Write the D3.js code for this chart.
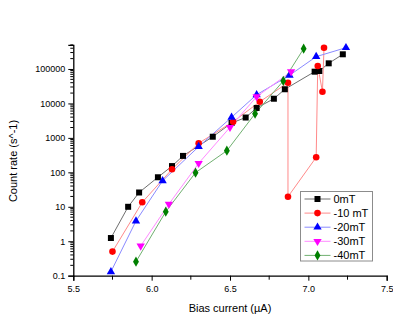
<!DOCTYPE html>
<html>
<head>
<meta charset="utf-8">
<script src="https://cdn.jsdelivr.net/npm/d3@7"></script>
<style>
  html, body { margin: 0; padding: 0; background: #fff; }
  svg { display: block; font-family: "Liberation Sans", Arial, sans-serif; }
</style>
</head>
<body>
<svg id="chart" width="393" height="320"></svg>
<script>
// Bias current (µA) and count rate (s^-1) for each magnetic field
const bias0 = [5.74, 5.85, 5.92, 6.04, 6.13, 6.20, 6.39, 6.51, 6.60, 6.67, 6.78, 6.85, 7.04, 7.07, 7.13, 7.22];
const rate0 = [1.24, 10, 26, 72, 152, 300, 1080, 2700, 3900, 7400, 13700, 25800, 83500, 87500, 146000, 267000];

const bias10 = [5.75, 5.94, 6.13, 6.30, 6.52, 6.69, 6.87, 6.87, 7.05, 7.06, 7.09, 7.10];
const rate10 = [0.5, 13.5, 123, 700, 2950, 11200, 40000, 19.6, 273, 122000, 21900, 415000];

const bias20 = [5.74, 5.90, 6.07, 6.30, 6.51, 6.67, 6.88, 7.05, 7.24];
const rate20 = [0.13, 3.87, 57, 556, 3960, 17900, 65600, 228000, 415000];

const bias30 = [5.93, 6.11, 6.30, 6.50, 6.67, 6.89];
const rate30 = [0.73, 12, 183, 2030, 15700, 83500];

const bias40 = [5.90, 6.09, 6.28, 6.48, 6.66, 6.84, 6.97];
const rate40 = [0.255, 7.2, 98, 425, 5050, 44900, 388000];

const seriesNames = ["0mT", "-10 mT", "-20mT", "-30mT", "-40mT"];
const xTicks = [5.5, 6.0, 6.5, 7.0, 7.5];
const yTicks = [0.1, 1, 10, 100, 1000, 10000, 100000];

const styles = [
  { line: "#6e6e6e", fill: "#000000", symbol: d3.symbolSquare, size: 36, rot: 0 },
  { line: "#ff8a8a", fill: "#ff0000", symbol: d3.symbolCircle, size: 34, rot: 0 },
  { line: "#8a8aff", fill: "#0000ff", symbol: d3.symbolTriangle, size: 30, rot: 0 },
  { line: "#ff8aff", fill: "#ff00ff", symbol: d3.symbolTriangle, size: 30, rot: 180 },
  { line: "#70b070", fill: "#008000", symbol: d3.symbolDiamond, size: 30, rot: 0 }
];

const series = [
  { name: seriesNames[0], x: bias0, y: rate0 },
  { name: seriesNames[1], x: bias10, y: rate10 },
  { name: seriesNames[2], x: bias20, y: rate20 },
  { name: seriesNames[3], x: bias30, y: rate30 },
  { name: seriesNames[4], x: bias40, y: rate40 }
];

const svg = d3.select("#chart");
const plotLeft = 73.3, plotRight = 386.7, plotTop = 44.9, plotBottom = 275.7;

const x = d3.scaleLinear().domain([5.5, 7.5]).range([plotLeft, plotRight]);
const y = d3.scaleLog().domain([0.1, 500000]).range([plotBottom, plotTop]);

// X axis: major ticks labelled, minor ticks halfway
const xAxis = svg.append("g").attr("transform", `translate(0,${plotBottom})`);
xAxis.call(d3.axisBottom(x).tickValues(xTicks).tickFormat(d3.format(".1f")).tickSizeOuter(0).tickSize(5));
const xMinor = d3.range(5.75, 7.5, 0.5);
xAxis.selectAll(".minor").data(xMinor).enter().append("line")
  .attr("class", "minor").attr("x1", d => x(d)).attr("x2", d => x(d))
  .attr("y1", 0).attr("y2", 4).attr("stroke", "#000");
xAxis.select(".domain").attr("stroke-width", 1.3);
xAxis.selectAll("text").attr("font-size", 9).attr("dy", "0.95em").attr("fill", "#000");

// Y axis: log decades labelled, minor ticks at 2..9
const yAxis = svg.append("g").attr("transform", `translate(${plotLeft},0)`);
yAxis.call(d3.axisLeft(y).tickValues(yTicks).tickFormat(d => d3.format("")(d)).tickSizeOuter(0).tickSize(5));
const yMinor = [];
for (let dec = 0.1; dec < 500000; dec *= 10) {
  for (let k = 2; k <= 9; k++) {
    const v = +(dec * k).toPrecision(3);
    if (v <= 500000) yMinor.push(v);
  }
}
yAxis.selectAll(".minor").data(yMinor).enter().append("line")
  .attr("class", "minor").attr("x1", -3).attr("x2", 0)
  .attr("y1", d => y(d)).attr("y2", d => y(d)).attr("stroke", "#000");
yAxis.select(".domain").attr("stroke-width", 1.3);
yAxis.selectAll("text").attr("font-size", 9).attr("fill", "#000").attr("x", -8);

// Axis titles
svg.append("text").attr("x", 230).attr("y", 312).attr("text-anchor", "middle")
  .attr("font-size", 11).text("Bias current (\u00B5A)");
svg.append("text").attr("transform", "translate(17,161) rotate(-90)")
  .attr("text-anchor", "middle").attr("font-size", 11).text("Count rate (s^-1)");

// Series lines and markers
const line = d3.line().x(d => x(d[0])).y(d => y(d[1]));
series.forEach((s, i) => {
  const pts = s.x.map((v, j) => [v, s.y[j]]);
  const st = styles[i];
  svg.append("path").datum(pts).attr("d", line)
    .attr("fill", "none").attr("stroke", st.line).attr("stroke-width", 1);
});
series.forEach((s, i) => {
  const pts = s.x.map((v, j) => [v, s.y[j]]);
  const st = styles[i];
  const sym = d3.symbol().type(st.symbol).size(st.size);
  svg.append("g").selectAll("path").data(pts).enter().append("path")
    .attr("d", sym)
    .attr("transform", d => `translate(${x(d[0])},${y(d[1])}) rotate(${st.rot})`)
    .attr("fill", st.fill);
});

// Legend
const lg = svg.append("g").attr("transform", "translate(300.5,191.5)");
lg.append("rect").attr("width", 72).attr("height", 69.5)
  .attr("fill", "#fff").attr("stroke", "#8c8c8c").attr("stroke-width", 1);
series.forEach((s, i) => {
  const st = styles[i];
  const yy = 7.5 + i * 14.1;
  lg.append("line").attr("x1", 4).attr("x2", 30).attr("y1", yy).attr("y2", yy)
    .attr("stroke", st.line).attr("stroke-width", 1);
  lg.append("path").attr("d", d3.symbol().type(st.symbol).size(st.size)())
    .attr("transform", `translate(17,${yy}) rotate(${st.rot})`).attr("fill", st.fill);
  lg.append("text").attr("x", 33).attr("y", yy).attr("dy", "0.36em")
    .attr("font-size", 11).text(s.name);
});
</script>
</body>
</html>
